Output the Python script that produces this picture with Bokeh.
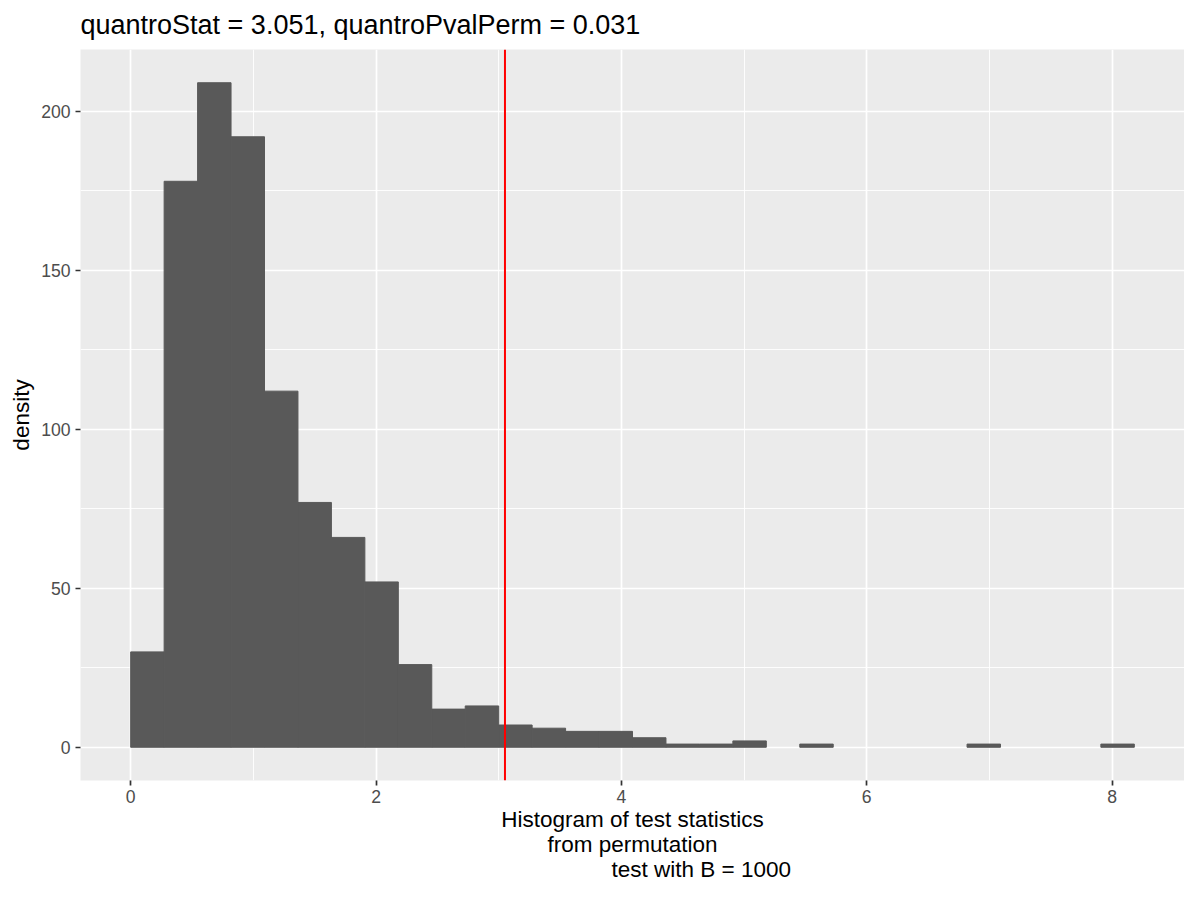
from bokeh.plotting import figure
from bokeh.models import FixedTicker, Span, Title
from bokeh.embed import file_html
from bokeh.resources import INLINE

# ---- data ----
bin_start = 0.0
bin_width = 0.2727
counts = [30, 178, 209, 192, 112, 77, 66, 52, 26, 12,
          13, 7, 6, 5, 5, 3, 1, 1, 2, 0,
          1, 0, 0, 0, 0, 1, 0, 0, 0, 1]
quantro_stat = 3.051
quantro_pval = 0.031
x_ticks = [0, 2, 4, 6, 8]
x_minor = [1, 3, 5, 7]
y_ticks = [0, 50, 100, 150, 200]
y_minor = [25, 75, 125, 175]
title_text = "quantroStat = 3.051, quantroPvalPerm = 0.031"
xlab_lines = ["Histogram of test statistics", "from permutation", "test with B = 1000"]
ylab = "density"

lefts_all = [bin_start + i * bin_width for i in range(len(counts))]
rights_all = [l + bin_width for l in lefts_all]
lo, hi = lefts_all[0], rights_all[-1]
xpad = 0.05 * (hi - lo)
ymax = max(counts)
ypad = 0.05 * ymax

# only non-empty bins get drawn (empty bins have no bar)
keep = [i for i, c in enumerate(counts) if c > 0]
lefts = [lefts_all[i] for i in keep]
rights = [rights_all[i] for i in keep]
tops = [counts[i] for i in keep]

FONT = "Liberation Sans"
NBSP = "\u00a0"

p = figure(width=1184, height=884, output_backend="svg", toolbar_location=None,
           x_range=(lo - xpad, hi + xpad), y_range=(-ypad, ymax + ypad),
           min_border_left=80, min_border_right=0, min_border_top=49,
           min_border_bottom=102)

p.title = Title(text=title_text, text_font=FONT, text_font_size="27px",
                text_font_style="normal", text_color="black", align="left",
                vertical_align="top", standoff=16, offset=0)

p.background_fill_color = "#EBEBEB"
p.border_fill_color = "white"
p.outline_line_color = None

p.quad(left=lefts, right=rights, top=tops, bottom=0,
       fill_color="#595959", line_color="#595959", line_width=1)

p.add_layout(Span(location=quantro_stat, dimension="height",
                  line_color="#FF0000", line_width=2))

p.xaxis.ticker = FixedTicker(ticks=x_ticks, minor_ticks=x_minor)
p.yaxis.ticker = FixedTicker(ticks=y_ticks, minor_ticks=y_minor)

for ax in (p.xaxis, p.yaxis):
    ax.axis_line_color = None
    ax.major_tick_out = 5
    ax.major_tick_in = 0
    ax.minor_tick_out = 0
    ax.minor_tick_in = 0
    ax.major_tick_line_color = "#333333"
    ax.major_tick_line_width = 1.7
    ax.major_label_text_font = FONT
    ax.major_label_text_font_size = "17.6px"
    ax.major_label_text_color = "#4D4D4D"
p.yaxis.major_label_standoff = 5
p.xaxis.major_label_standoff = 4

p.yaxis.axis_label = ylab
p.yaxis.axis_label_text_font = FONT
p.yaxis.axis_label_text_font_size = "22.5px"
p.yaxis.axis_label_text_font_style = "normal"
p.yaxis.axis_label_text_color = "black"
p.yaxis.axis_label_standoff = 4

# multi-line x axis title; third line is shifted right as in the reference
p.xaxis.axis_label = "\n".join([xlab_lines[0], xlab_lines[1], NBSP * 22 + xlab_lines[2]])
p.xaxis.axis_label_text_font = FONT
p.xaxis.axis_label_text_font_size = "22.5px"
p.xaxis.axis_label_text_font_style = "normal"
p.xaxis.axis_label_text_color = "black"
p.xaxis.axis_label_text_line_height = 1.0
p.xaxis.axis_label_standoff = 1

for g in (p.xgrid, p.ygrid):
    g.grid_line_color = "white"
    g.grid_line_width = 1.7
    g.minor_grid_line_color = "white"
    g.minor_grid_line_width = 0.9

open("out.html", "w").write(file_html(p, INLINE))
